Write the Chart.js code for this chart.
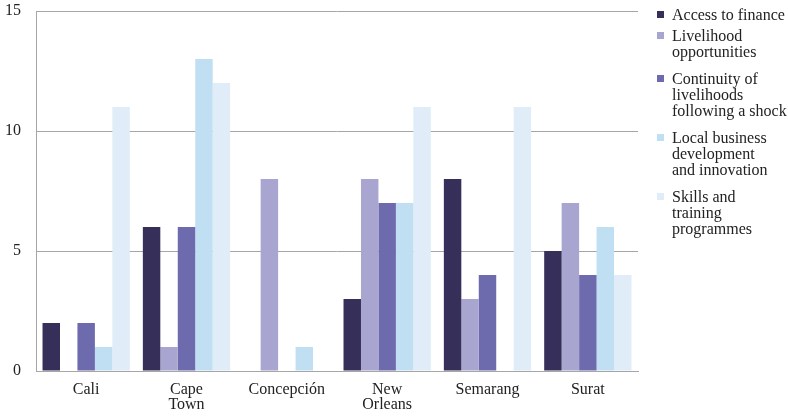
<!DOCTYPE html>
<html>
<head>
<meta charset="utf-8">
<script src="https://cdn.jsdelivr.net/npm/chart.js@4/dist/chart.umd.min.js"></script>
<style>
  html, body { margin: 0; padding: 0; background: #fff; }
  #wrap { width: 788px; height: 418px; }
</style>
</head>
<body>
<div id="wrap"><canvas id="chart" width="788" height="418"></canvas></div>
<script>
const cities = [['Cali'], ['Cape', 'Town'], ['Concepción'], ['New', 'Orleans'], ['Semarang'], ['Surat']];
const accessToFinance = [2, 6, 0, 3, 8, 5];
const livelihoodOpportunities = [0, 1, 8, 8, 3, 7];
const continuityOfLivelihoods = [2, 6, 0, 7, 4, 4];
const localBusiness = [1, 13, 1, 7, 0, 6];
const skillsTraining = [11, 12, 0, 11, 11, 4];
const seriesLabels = [
    ['Access to finance'],
    ['Livelihood', 'opportunities'],
    ['Continuity of', 'livelihoods', 'following a shock'],
    ['Local business', 'development', 'and innovation'],
    ['Skills and', 'training', 'programmes']
];
const yTicks = [0, 5, 10, 15];

const colors = ['#352f5a', '#a8a5d0', '#6e6aae', '#c1dff3', '#e0edf8'];
const serif = "'Liberation Serif', 'Times New Roman', serif";

// legend drawn by hand so the labels can wrap like the original
const sideLegend = {
    id: 'sideLegend',
    afterDraw(chart) {
        const ctx = chart.ctx;
        const x = chart.chartArea.right + 19;
        let y = 14.5;
        ctx.save();
        ctx.font = '16px ' + serif;
        ctx.textBaseline = 'middle';
        chart.data.datasets.forEach(function(ds) {
            ctx.fillStyle = ds.backgroundColor;
            ctx.fillRect(x, y - 3.5, 7, 7);
            ctx.fillStyle = '#222';
            ds.lines.forEach(function(line, j) {
                ctx.fillText(line, x + 15, y + 1 + j * 16);
            });
            y += ds.lines.length * 16 + (ds.lines.length > 1 ? 11 : 5);
        });
        ctx.restore();
    }
};

const seriesData = [accessToFinance, livelihoodOpportunities, continuityOfLivelihoods, localBusiness, skillsTraining];

new Chart(document.getElementById('chart').getContext('2d'), {
    type: 'bar',
    data: {
        labels: cities,
        datasets: seriesData.map(function(values, i) {
            return {
                label: seriesLabels[i].join(' '),
                lines: seriesLabels[i],
                data: values,
                backgroundColor: colors[i],
                borderWidth: 0,
                barPercentage: 1,
                categoryPercentage: 0.87
            };
        })
    },
    options: {
        responsive: false,
        animation: false,
        layout: { padding: { top: 11, right: 150, left: 0, bottom: 0 } },
        plugins: {
            legend: { display: false },
            tooltip: { enabled: false }
        },
        scales: {
            x: {
                afterFit(axis) { axis.height = 47; axis.paddingLeft = 0; axis.paddingRight = 0; },
                grid: { display: false },
                border: { color: '#a6a6a6', width: 1 },
                ticks: { color: '#222', font: { family: serif, size: 16, lineHeight: 0.95 }, padding: 3, maxRotation: 0 }
            },
            y: {
                min: 0,
                max: 15,
                afterBuildTicks(axis) { axis.ticks = yTicks.map(function(v) { return { value: v }; }); },
                afterFit(axis) { axis.width = 36; axis.paddingTop = 0; axis.paddingBottom = 0; },
                grid: { color: '#a6a6a6', drawTicks: false },
                border: { color: '#a6a6a6', width: 1 },
                ticks: { color: '#222', font: { family: serif, size: 16 }, padding: 15 }
            }
        }
    },
    plugins: [sideLegend]
});
</script>
</body>
</html>
